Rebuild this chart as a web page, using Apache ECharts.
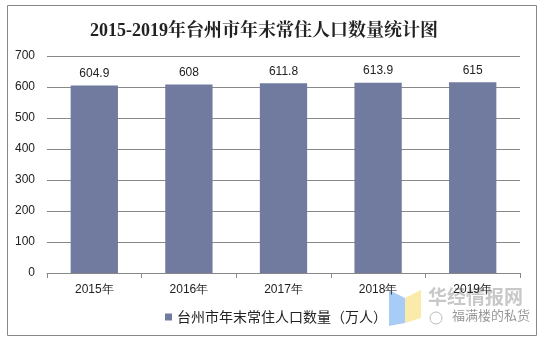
<!DOCTYPE html>
<html><head><meta charset="utf-8">
<script src="https://cdn.jsdelivr.net/npm/echarts@6/dist/echarts.min.js"></script>
<style>html,body{margin:0;padding:0;background:#fff}#c{width:546px;height:346px}</style>
</head><body><div id="c"></div>
<script>
const categories = ['2015年','2016年','2017年','2018年','2019年'];
const values = [604.9, 608, 611.8, 613.9, 615];
const seriesName = '台州市年末常住人口数量（万人）';
const titleText = '2015-2019年台州市年末常住人口数量统计图';

const chart = echarts.init(document.getElementById('c'));
chart.setOption({
  animation: false,
  backgroundColor: '#fff',
  title: {
    text: titleText, left: 85, top: 17,
    textStyle: {fontFamily: 'Liberation Serif, "Noto Serif CJK SC", serif', fontWeight: 'bold', fontSize: 18, color: '#222'}
  },
  graphic: [
    {type: 'rect', shape: {x: 7.5, y: 5.5, width: 529, height: 330}, style: {fill: 'none', stroke: '#888', lineWidth: 1}, silent: true},
    {type: 'polygon', shape: {points: [[389,290],[405,298],[405,323],[389,326]]}, style: {fill: '#A9CCF6'}, silent: true},
    {type: 'polygon', shape: {points: [[405,298],[421,290],[421,318],[405,323]]}, style: {fill: '#FBEBAA'}, silent: true},
    {type: 'text', left: 428, top: 287, style: {text: '华经情报网', fill: '#c8c8c8', font: 'bold 19px "Noto Sans CJK SC"'}, silent: true},
    {type: 'circle', shape: {cx: 436, cy: 318, r: 6}, style: {fill: 'none', stroke: '#bbb', lineWidth: 1}, silent: true},
    {type: 'text', left: 452, top: 309, style: {text: '福满楼的私货', fill: '#999', font: '13px "Noto Sans CJK SC"'}, silent: true}
  ],
  legend: {
    bottom: 17, left: 160,
    itemWidth: 7, itemHeight: 7, itemGap: 5,
    textStyle: {fontSize: 14, color: '#222', fontFamily: '"Noto Sans CJK SC", sans-serif'},
    data: [{name: seriesName, icon: 'rect'}]
  },
  grid: {left: 47, right: 26, top: 56, bottom: 73, containLabel: false},
  xAxis: {
    type: 'category', data: categories,
    axisLine: {lineStyle: {color: '#888'}},
    axisTick: {show: true, length: 5, lineStyle: {color: '#888'}},
    axisLabel: {color: '#222', fontSize: 12, margin: 11, fontFamily: 'Liberation Sans, Arial, sans-serif'}
  },
  yAxis: {
    type: 'value', min: 0, max: 700, interval: 100,
    axisLine: {show: false}, axisTick: {show: false},
    splitLine: {lineStyle: {color: '#888'}},
    axisLabel: {color: '#222', fontSize: 12, margin: 12, fontFamily: 'Liberation Sans, Arial, sans-serif'}
  },
  series: [{
    name: seriesName, type: 'bar', data: values, barWidth: '50%',
    itemStyle: {color: '#717B9F'},
    label: {show: true, position: 'top', distance: 6, color: '#222', fontSize: 12, fontFamily: 'Liberation Sans, Arial, sans-serif'}
  }]
});
</script></body></html>
